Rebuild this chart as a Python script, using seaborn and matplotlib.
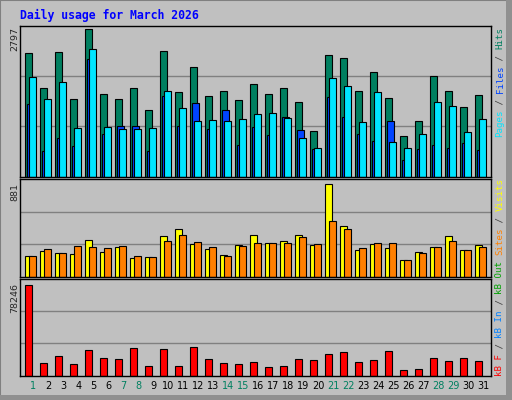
import matplotlib
matplotlib.use("Agg")
import matplotlib.pyplot as plt
import seaborn as sns
import numpy as np
from matplotlib.patches import Rectangle

sns.set_style("white")
plt.rcParams['font.family'] = ['DejaVu Sans Mono', 'DejaVu Sans']

days = list(range(1, 32))
day_labels = [str(d) for d in days]
weekend = [1, 7, 8, 14, 15, 21, 22, 28, 29]

hits = [2286,1637,2304,1433,2730,1526,1433,1637,1230,2322,1563,2026,1489,1582,1415,1711,
        1526,1637,1378,841,2248,2193,1582,1933,1452,748,1026,1859,1582,1285,1507]
files = [1841,1433,1748,896,2359,915,878,878,896,1582,1267,1026,1045,1026,1063,1156,
         1174,1082,711,526,1822,1674,1007,1563,637,526,785,1378,1304,822,1063]
pages = [1341,470,711,563,2174,785,933,933,470,1489,933,1359,878,1230,582,915,
         767,1100,859,507,1470,1100,785,656,1026,304,507,582,526,619,489]
visits = [194,245,223,213,347,232,280,175,184,385,452,308,261,204,299,394,
          318,337,394,299,881,480,251,308,270,156,232,280,385,251,299]
sites = [194,261,223,289,280,270,289,194,184,337,394,328,280,194,289,318,
         318,318,375,308,528,452,270,318,318,156,223,280,337,251,280]
kbytes = [78246,10567,17421,9710,22562,15708,14851,24276,7997,23419,7997,25132,14851,10567,9710,11424,
          7140,7997,14851,13994,19135,20849,11424,13994,21705,4570,5426,15708,12281,15708,12281]

W, H = 512, 400
fig = plt.figure(figsize=(W/100, H/100), dpi=100)
fig.patch.set_facecolor('#c0c0c0')
# frame
fig.add_artist(Rectangle((0, 0), 1, 1, transform=fig.transFigure, fill=False, edgecolor='#808080', lw=1.5))
fig.add_artist(Rectangle((506/W, 0), 6/W, 1, transform=fig.transFigure, color='#909090', lw=0))
fig.add_artist(Rectangle((0, 0), 1, 5/H, transform=fig.transFigure, color='#909090', lw=0))

def axes_px(left, top, right, bottom):
    return fig.add_axes([left/W, 1-bottom/H, (right-left)/W, (bottom-top)/H])

bw = 7/15
off = 2/15
xlim = (1 - 5.3/15, 1 + (471-5.3)/15)
x = np.array(days, dtype=float)

def style(ax, ymax):
    ax.set_facecolor('#c0c0c0')
    ax.set_xlim(*xlim)
    ax.set_ylim(0, ymax)
    for g in (ymax/3, 2*ymax/3):
        ax.axhline(g, color='#808080', lw=1, zorder=0)
    ax.set_xticks([]); ax.set_yticks([])
    for s in ax.spines.values():
        s.set_color('black'); s.set_linewidth(1)

ec = dict(edgecolor='black', linewidth=0.8, align='edge', width=bw)

ax1 = axes_px(20, 25.7, 491, 176.7)
style(ax1, 2797)
ax1.bar(x, hits, color='#007f60', **ec)
ax1.bar(x+off, pages, color='#0044ff', **ec)
ax1.bar(x+2*off, files, color='#00e5ff', **ec)

ax2 = axes_px(20, 179, 491, 276.7)
style(ax2, 930)
ax2.bar(x, visits, color='#ffff00', **ec)
ax2.bar(x+2*off, sites, color='#ff8000', **ec)

ax3 = axes_px(20, 278.5, 491, 375.7)
style(ax3, 83985)
ax3.bar(x, kbytes, color='#ff0000', **ec)
ax3.set_xticks(x + 8/15)
ax3.set_xticklabels(day_labels, fontsize=7, family=['DejaVu Sans'])
ax3.tick_params(axis='x', length=0, pad=4)
for lbl, d in zip(ax3.get_xticklabels(), days):
    lbl.set_color('#008060' if d in weekend else 'black')

fig.text(20/W, 1-15/H, "Daily usage for March 2026", color='#0000ff', fontsize=8.3,
         fontweight='bold', va='center', ha='left')

# left max labels
for txt, ytop in (("2797", 27), ("881", 183), ("78246", 283)):
    fig.text(15/W, 1-ytop/H, txt, rotation=90, fontsize=6.8, va='top', ha='center',
             family=['DejaVu Sans'])

# right legend labels
cw = 5.5
def vlabel(pieces, ybottom):
    y = ybottom
    for t, c in pieces:
        fig.text(500/W, 1-y/H, t, rotation=90, color=c, fontsize=6.6, va='bottom', ha='center')
        y -= cw*len(t)

vlabel([("Pages", '#00e5ff'), (" / ", '#404040'), ("Files", '#0044ff'), (" / ", '#404040'),
        ("Hits", '#007f60')], 137)
vlabel([("kB F", '#ff0000'), (" / ", '#404040'), ("kB In", '#0080ff'), (" / ", '#404040'),
        ("kB Out", '#00a000'), (" ", 'black'), ("Sites", '#ff8000'), (" / ", '#404040'),
        ("Visits", '#ffff00')], 376)

fig.savefig("out.png", dpi=100, facecolor=fig.get_facecolor())
